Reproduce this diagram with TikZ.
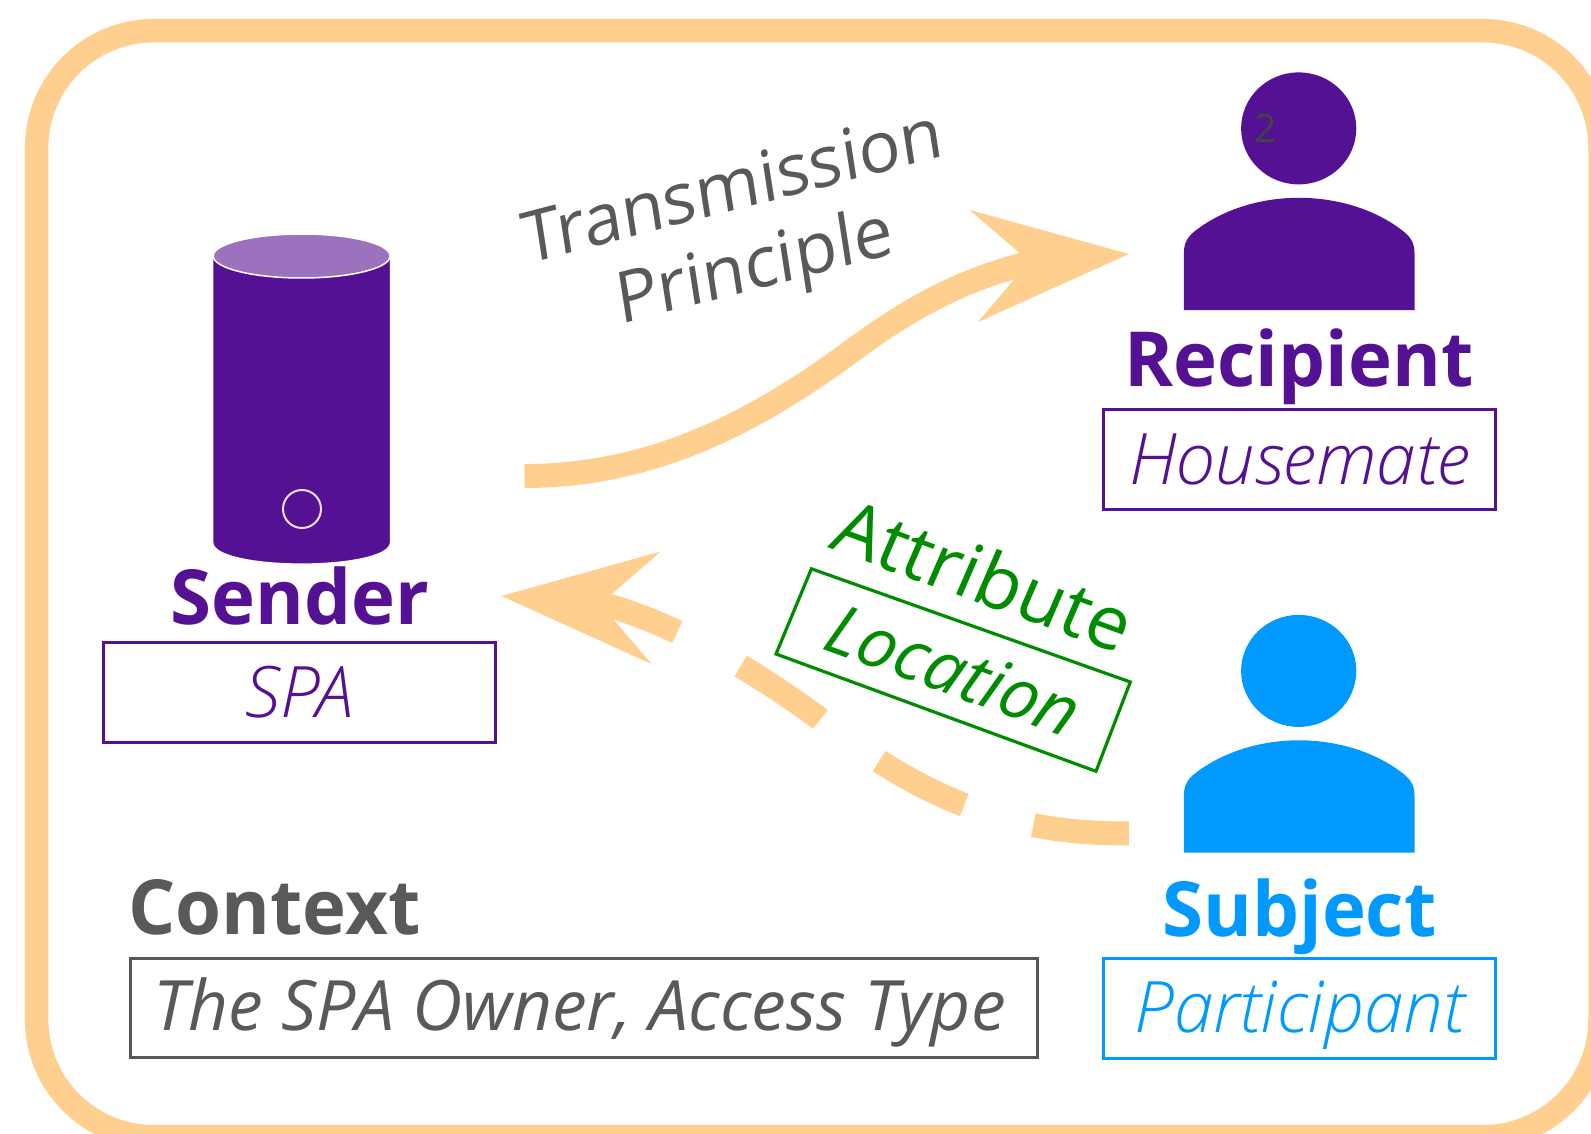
\documentclass[tikz,border=0pt]{standalone}
\usepackage{fontspec}
\setmainfont{Open Sans}
\newfontfamily\oslight{Open Sans Light}[ItalicFont={Open Sans Light Italic}]
\definecolor{framec}{HTML}{FFCF8F}
\definecolor{purp}{HTML}{541194}
\definecolor{lilac}{HTML}{9C71BD}
\definecolor{skyb}{HTML}{0099FF}
\definecolor{grn}{HTML}{008C00}
\definecolor{gry}{HTML}{595959}
\definecolor{dgry}{HTML}{444444}
\newcommand{\fs}[1]{\fontsize{#1}{#1}\selectfont}
\tikzset{
  heading/.style={anchor=base,inner sep=0pt,xscale=.978,font=\fs{76}\bfseries},
  rolebox/.style={draw,line width=3pt,inner sep=0pt,font=\oslight\fs{71}\itshape,text height=75.2pt,text depth=24.6pt,minimum width=392pt},
  flow/.style={draw=framec,line width=24pt,line cap=butt},
  tip/.style={fill=framec},
  slantlabel/.style={anchor=base,inner sep=0pt,font=\fs{70.5}},
  personpath/.pic={
    \fill[pic actions] (1298.7,128.4) ellipse [x radius=57.6,y radius=56];
    \fill[pic actions] (1183.9,310) -- (1183.9,253) .. controls (1183.9,241) and (1189,235) .. (1199,228)
      .. controls (1226,208.5) and (1262,197.8) .. (1298.7,197.8)
      .. controls (1336,197.8) and (1372,208.5) .. (1399,228)
      .. controls (1409,235) and (1414.5,241) .. (1414.5,253) -- (1414.5,310) -- cycle;
  }
}
\begin{document}
\begin{tikzpicture}[x=1pt,y=-1pt]
\clip (0,0) rectangle (1591,1134);
\fill[white] (0,0) rectangle (1591,1134);
% frame
\draw[framec,line width=23.5pt,rounded corners=117pt] (36.7,30.7) rectangle (1600,1136.7);
% sender cylinder
\filldraw[fill=purp,draw=white,line width=1.2pt] (212.8,255) -- (212.8,542.5)
  .. controls (212.8,556) and (255,564) .. (301.7,564)
  .. controls (348,564) and (390.4,556) .. (390.4,542.5) -- (390.4,255) -- cycle;
\filldraw[fill=lilac,draw=white,line width=1.5pt] (301.7,256) ellipse [x radius=88.5,y radius=22];
\draw[draw=white!88!purp,line width=2pt] (302,509) circle [radius=19];
% persons
\pic[fill=purp] {personpath};
\pic[fill=skyb,yshift=-542.5pt] {personpath};
\node[inner sep=0pt,text=dgry,font=\fs{39}] (two) at (1265.5,128.5) {2};
% labels
\node[heading,text=purp] (recipient) at (1299,386) {Recipient};
\node[rolebox,draw=purp,text=purp] (housemate) at (1299.4,459.3) {Housemate};
\node[heading,text=purp] (sender) at (300,624) {Sender};
\node[rolebox,draw=purp,text=purp,text height=75.8pt,text depth=25pt] (spa) at (299.2,692.4) {SPA};
\node[heading,text=gry] (context) at (274.5,934.4) {Context};
\node[rolebox,draw=gry,text=gry,font=\fs{69.5}\itshape,minimum width=907pt,text height=72.3pt,text depth=27pt] (ctx) at (583.7,1008.3) {The SPA Owner, Access Type\hspace*{8pt}};
\node[heading,text=skyb] (subject) at (1299.5,936) {Subject};
\node[rolebox,draw=skyb,text=skyb,text height=74.2pt,text depth=25.5pt] (participant) at (1299.4,1008.2) {Participant};
% transmission arrow
\coordinate (tpstart) at (524.5,476);
\coordinate (tpmid) at (853,350);
\coordinate (tpend) at (1025,264);
\coordinate (tptip) at (1129,254);
\draw[flow] (tpstart) .. controls (660,476) and (765,415) .. (tpmid)
  .. controls (905,312) and (955,282) .. (tpend);
\fill[tip] (tptip) -- (969.6,210) -- (1019.6,253) -- (1014.5,279) -- (978,322) -- cycle;
% attribute arrow
\coordinate (atstart) at (1128.8,833.4);
\coordinate (atmid) at (820,719);
\coordinate (atend) at (603,604);
\coordinate (attip) at (501.5,596);
\draw[flow,dash pattern=on 96pt off 72pt] (atstart) .. controls (1030,834) and (938,812) .. (atmid)
  .. controls (760,675) and (680,625) .. (atend);
\fill[tip] (attip) -- (660.7,551.5) -- (610.7,595) -- (614.8,621) -- (651.5,664) -- cycle;
% slanted labels
\node[slantlabel,text=gry,rotate=14.5,xslant=.1] (transmission) at (736,210) {Transmission};
\node[slantlabel,text=gry,rotate=14.5,xslant=.1] (principle) at (758,289) {Principle};
\node[slantlabel,text=grn,font=\fs{75},rotate=-20,xslant=.06] (attribute) at (973,601) {Attribute};
\node[slantlabel,text=grn,font=\fs{69.5}\itshape,rotate=-20,xslant=.06] (location) at (944,693) {Location};
\draw[grn,line width=3.2pt,line join=miter] (811.4,568.8) -- (1130.3,682) -- (1096,771.3) -- (776,654) -- cycle;
\end{tikzpicture}
\end{document}
